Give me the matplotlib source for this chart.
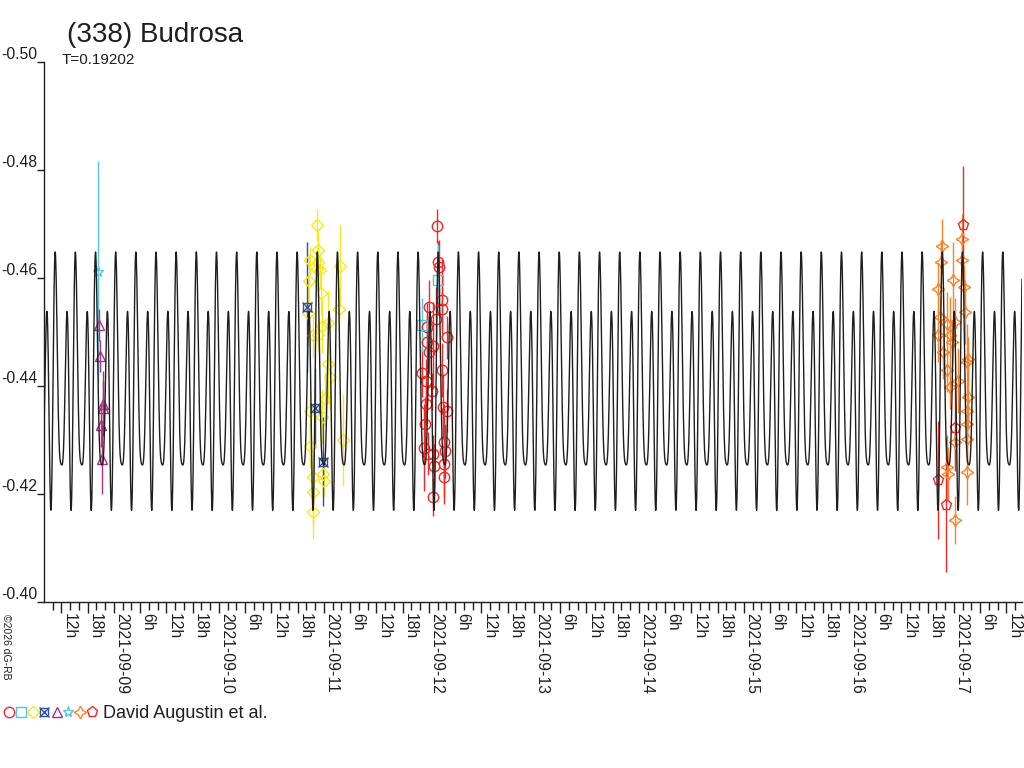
import numpy as np
import matplotlib
matplotlib.use('Agg')
import matplotlib.pyplot as plt
import matplotlib.dates as mdates
from matplotlib.ticker import FuncFormatter
from matplotlib.lines import Line2D
from datetime import datetime

plt.rcParams['font.family'] = ['Liberation Sans', 'DejaVu Sans']

# period (days) and epoch of the brightest maximum (day of September 2021)
period = 0.19202
epoch = 8.4405

# fourier model of the lightcurve: mean, then (cos, sin) per harmonic
fourier_mean = -0.43839
fourier_cos = [-0.00544, -0.01543, -0.00555]
fourier_sin = [0.00191, -0.00746, 0.00499]

# observations: day of September 2021, magnitude, error
purple_day = [8.8571, 8.8667, 8.8762, 8.8829, 8.8924, 8.8952]
purple_mag = [-0.4513, -0.4456, -0.4327, -0.4265, -0.4367, -0.4360]
purple_err = [0.003, 0.003, 0.004, 0.0065, 0.006, 0.005]

star_day = [8.8505]
star_mag = [-0.4611]
star_err = [0.0205]

yellow_day = [10.9362, 10.9457, 10.8667, 10.9457, 10.9305, 10.9619, 10.8600, 10.9686, 11.1524,
              11.1457, 10.8505, 10.9781, 11.0352, 10.8981, 10.9457, 11.0352, 11.0571, 11.0095,
              10.8667, 10.9781, 10.8667, 11.1781, 10.9933, 10.8981, 11.0029, 10.8981, 10.8924]
yellow_mag = [-0.4698, -0.4651, -0.4633, -0.4629, -0.4617, -0.4614, -0.4594, -0.4572, -0.4623,
              -0.4543, -0.4536, -0.4512, -0.4516, -0.4494, -0.4494, -0.4441, -0.4416, -0.4376,
              -0.4354, -0.4342, -0.4289, -0.4300, -0.4237, -0.4231, -0.4225, -0.4203, -0.4166]
yellow_err = [0.0030, 0.0040, 0.0025, 0.0050, 0.0040, 0.0030, 0.0050, 0.0040, 0.0075,
              0.0040, 0.0060, 0.0050, 0.0060, 0.0040, 0.0030, 0.0075, 0.0060, 0.0050,
              0.0040, 0.0050, 0.0040, 0.0085, 0.0040, 0.0050, 0.0030, 0.0060, 0.0050]

blue_day = [10.8352, 10.9143, 10.9933]
blue_mag = [-0.4546, -0.4359, -0.4260]
blue_err = [0.012, 0.0074, 0.0083]

red_day = [12.0790, 12.0886, 12.0981, 12.1210, 12.0029, 12.1210, 12.0667, 11.9838, 12.1686,
           11.9781, 12.0410, 12.0029, 11.9305, 12.1257, 11.9714, 12.0257, 11.9714, 12.1362,
           12.1686, 11.9619, 12.1457, 11.9524, 11.9933, 12.0352, 12.1524, 12.0505, 12.1457,
           12.1429, 12.0410]
red_mag = [-0.4696, -0.4629, -0.4620, -0.4560, -0.4547, -0.4543, -0.4524, -0.4509, -0.4490,
           -0.4481, -0.4475, -0.4463, -0.4425, -0.4429, -0.4410, -0.4390, -0.4367, -0.4362,
           -0.4354, -0.4330, -0.4296, -0.4286, -0.4275, -0.4274, -0.4279, -0.4252, -0.4255,
           -0.4231, -0.4195]
red_err = [0.0032, 0.0040, 0.0050, 0.0075, 0.0050, 0.0040, 0.0060, 0.0045, 0.0040,
           0.0050, 0.0080, 0.0040, 0.0045, 0.0050, 0.0040, 0.0035, 0.0040, 0.0060,
           0.0040, 0.0050, 0.0070, 0.0080, 0.0040, 0.0035, 0.0050, 0.0040, 0.0060,
           0.0050, 0.0035]

square_day = [12.0886, 11.9305]
square_mag = [-0.4597, -0.4513]
square_err = [0.0065, 0.0050]

orange_day = [16.8829, 17.0733, 16.8762, 17.0733, 16.9933, 17.0981, 16.8505, 17.1048, 16.8667,
              16.9305, 17.0095, 16.8505, 16.9619, 16.9781, 16.8981, 17.1362, 17.1210, 16.9305,
              17.0410, 16.9619, 17.1362, 17.1210, 17.1210, 17.1210, 17.0095, 16.9305, 16.9457,
              17.1210, 17.0095]
orange_mag = [-0.4660, -0.4673, -0.4629, -0.4634, -0.4596, -0.4584, -0.4580, -0.4537, -0.4527,
              -0.4515, -0.4518, -0.4494, -0.4494, -0.4481, -0.4463, -0.4450, -0.4444, -0.4429,
              -0.4410, -0.4398, -0.4380, -0.4354, -0.4330, -0.4302, -0.4296, -0.4250, -0.4237,
              -0.4240, -0.4152]
orange_err = [0.0050, 0.0045, 0.0040, 0.0040, 0.0070, 0.0040, 0.0050, 0.0060, 0.0040,
              0.0060, 0.0045, 0.0050, 0.0070, 0.0040, 0.0050, 0.0040, 0.0070, 0.0040,
              0.0060, 0.0040, 0.0060, 0.0050, 0.0040, 0.0045, 0.0040, 0.0060, 0.0050,
              0.0060, 0.0045]

penta_day = [17.0886, 17.0095, 16.8448, 16.9210]
penta_mag = [-0.4698, -0.4323, -0.4226, -0.4180]
penta_err = [0.0110, 0.0080, 0.0110, 0.0125]

day_start, day_end = 8.3362, 17.648

RED = '#f02828'
CYAN = '#50c8e0'
YELLOW = '#f8e81a'
BLUE = '#3050a8'
PURPLE = '#b0307c'
ORANGE = '#fb8328'
INK = '#1e1e1e'

sept0 = mdates.date2num(datetime(2021, 9, 1)) - 1.0


def to_num(days):
    return sept0 + np.asarray(days, dtype=float)


fig = plt.figure(figsize=(10.24, 7.68), dpi=100)
ax = fig.add_axes([44.3 / 1024, 1 - 602 / 768, (1022 - 44.3) / 1024, 540 / 768])

# model curve, sampled along the whole time span
t = np.linspace(day_start, day_end, 6000)
ph = (t - epoch) / period
curve = np.full_like(t, fourier_mean)
for k, (ca, sb) in enumerate(zip(fourier_cos, fourier_sin), start=1):
    curve += ca * np.cos(2 * np.pi * k * ph) + sb * np.sin(2 * np.pi * k * ph)
ax.plot(to_num(t), curve, color=INK, lw=1.0, zorder=5)


def obs(days, mags, errs, color, marker, ms):
    ax.errorbar(to_num(days), mags, yerr=errs, fmt='none', ecolor=color, elinewidth=1.0,
                capsize=0, zorder=2)
    ax.plot(to_num(days), mags, ls='none', marker=marker, ms=ms, mfc='none', mec=color,
            mew=1.0, zorder=3)


obs(star_day, star_mag, star_err, CYAN, '*', 8)
obs(purple_day, purple_mag, purple_err, PURPLE, '^', 7)
obs(yellow_day, yellow_mag, yellow_err, YELLOW, 'D', 6)
obs(blue_day, blue_mag, blue_err, BLUE, 's', 5.5)
ax.plot(to_num(blue_day), blue_mag, ls='none', marker='x', ms=7.5, mec=BLUE, mew=1.0, zorder=3)
obs(red_day, red_mag, red_err, RED, 'o', 7.5)
obs(square_day, square_mag, square_err, CYAN, 's', 6.5)
obs(orange_day, orange_mag, orange_err, ORANGE, (4, 1, 0), 9)
obs(penta_day, penta_mag, penta_err, RED, 'p', 8)

ax.set_xlim(to_num(day_start), to_num(day_end))
ax.set_ylim(-0.40, -0.50)

for side in ['top', 'right']:
    ax.spines[side].set_visible(False)
for side in ['left', 'bottom']:
    ax.spines[side].set_linewidth(1.0)
    ax.spines[side].set_color(INK)

ax.set_yticks([-0.50, -0.48, -0.46, -0.44, -0.42, -0.40])
ax.yaxis.set_major_formatter(FuncFormatter(lambda v, p: '%.2f' % v))
ax.tick_params(axis='y', direction='out', length=5.2, width=1.0, pad=0, labelsize=11.3,
               colors=INK)
for lbl in ax.get_yticklabels():
    lbl.set_verticalalignment('bottom')

ax.xaxis.set_major_locator(mdates.HourLocator(byhour=[0, 6, 12, 18]))
ax.xaxis.set_minor_locator(mdates.HourLocator(byhour=range(0, 24, 2)))


def fmt_time(v, pos):
    dt = mdates.num2date(v)
    if dt.hour == 0:
        return dt.strftime('%Y-%m-%d')
    return '%dh' % dt.hour


ax.xaxis.set_major_formatter(FuncFormatter(fmt_time))
ax.tick_params(axis='x', which='major', direction='out', length=8, width=1.0, pad=0,
               labelsize=11.3, colors=INK)
ax.tick_params(axis='x', which='minor', direction='out', length=5.5, width=1.0, colors=INK)
for lbl in ax.get_xticklabels():
    lbl.set_rotation(270)
    lbl.set_horizontalalignment('left')
    lbl.set_verticalalignment('top')

# titles
fig.text(66.7 / 1024, 1 - 41.7 / 768, '(338) Budrosa', fontsize=20, color=INK,
         va='baseline', ha='left')
fig.text(61.7 / 1024, 1 - 64.3 / 768, 'T=0.19202', fontsize=11, color=INK,
         va='baseline', ha='left')
fig.text(0.5 / 1024, 1 - 614 / 768, '\u00a92026 dG-RB', fontsize=7.5, rotation=270,
         va='top', ha='left', color=INK)

# observer key at the bottom
key = [('o', RED, 7.5), ('s', CYAN, 6.5), ('D', YELLOW, 6), ('s', BLUE, 5.5),
       ('^', PURPLE, 7), ('*', CYAN, 8), ((4, 1, 0), ORANGE, 9), ('p', RED, 8)]
key_x = [9, 20.7, 32.7, 44.3, 56.7, 68.3, 80, 92]
for (mk, col, ms), kx in zip(key, key_x):
    fig.add_artist(Line2D([kx / 1024], [1 - 712 / 768], transform=fig.transFigure,
                          marker=mk, ms=ms, mfc='none', mec=col, mew=1.0, ls='none'))
fig.add_artist(Line2D([44.3 / 1024], [1 - 712 / 768], transform=fig.transFigure,
                      marker='x', ms=7.5, mec=BLUE, mew=1.0, ls='none'))
fig.text(103 / 1024, 1 - 718.3 / 768, 'David Augustin et al.', fontsize=13,
         color=INK, va='baseline', ha='left')

fig.savefig('out.png', dpi=100)
